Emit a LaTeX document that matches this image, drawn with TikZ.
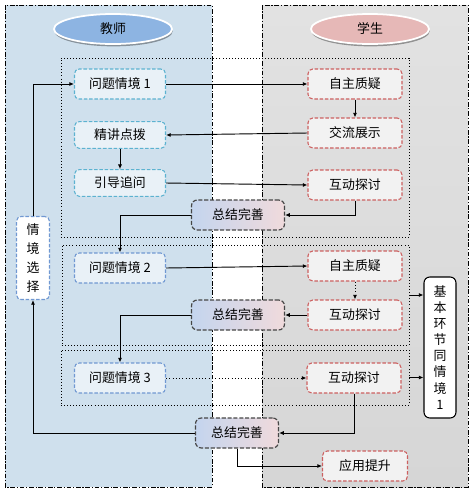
\documentclass[tikz,border=0pt]{standalone}
\usepackage{fontspec}
\newfontfamily\cjk{Noto Sans CJK SC}
\usepackage{tikz}
\usetikzlibrary{shapes.geometric}
\usetikzlibrary{shadows}
\usetikzlibrary{arrows.meta}

\definecolor{laneblue}{RGB}{207,224,237}
\definecolor{lanegraytop}{RGB}{226,226,226}
\definecolor{lanegraybot}{RGB}{214,214,214}
\definecolor{headblue}{RGB}{141,180,226}
\definecolor{headpink}{RGB}{230,184,183}
\definecolor{tealline}{RGB}{92,178,208}
\definecolor{blueline}{RGB}{112,152,210}
\definecolor{teacherfill}{RGB}{233,241,247}
\definecolor{redline}{RGB}{204,96,96}
\definecolor{studentfill}{RGB}{242,242,242}
\definecolor{sumleft}{RGB}{196,213,238}
\definecolor{sumright}{RGB}{240,218,220}
\definecolor{sumline}{RGB}{70,70,70}

\begin{document}
\begin{tikzpicture}[x=0.03cm, y=-0.03cm, >={Latex[length=4pt,width=3.5pt]},
    every node/.style={font=\cjk\fontsize{11}{13}\selectfont},
    lanedash/.style={line width=0.6pt, dash pattern=on 4pt off 1.5pt on 1pt off 1.5pt},
    lanehead/.style={ellipse, draw=white, line width=1.5pt, minimum width=3.54cm, minimum height=0.9cm, inner sep=0pt,
        drop shadow={shadow xshift=0.5pt, shadow yshift=-2pt, fill=black, opacity=0.35}},
    groupbox/.style={draw, dotted, line width=0.6pt, inner sep=0pt, outer sep=0pt},
    tbox/.style={draw=tealline, fill=teacherfill, dash pattern=on 3pt off 1.5pt, line width=0.9pt,
        rounded corners=4pt, minimum width=2.73cm, minimum height=0.9cm},
    bbox/.style={tbox, draw=blueline},
    sbox/.style={draw=redline, fill=studentfill, dash pattern=on 3pt off 1.5pt, line width=0.9pt,
        rounded corners=4pt, minimum width=2.82cm, minimum height=0.9cm},
    sumbox/.style={draw=sumline, left color=sumleft, right color=sumright, dash pattern=on 3.5pt off 1.5pt,
        line width=1pt, rounded corners=5pt, minimum width=2.79cm, minimum height=0.9cm},
    flow/.style={->, line width=0.8pt},
    dotflow/.style={->, line width=0.8pt, dotted}
]
\useasboundingbox (0,0) rectangle (473,496);

% Lanes
\fill[laneblue] (5,5) rectangle (212,487);
\draw[lanedash] (5,5) rectangle (212,487);
\shade[top color=lanegraytop, bottom color=lanegraybot] (262,5) rectangle (468,487);
\draw[lanedash] (262,5) rectangle (468,487);

% Lane heads
\node[lanehead, fill=headblue] (teacher) at (113,29) {教师};
\node[lanehead, fill=headpink] (student) at (370,29) {学生};

% Groups
\node[groupbox, minimum width=10.44cm, minimum height=5.37cm] (g1) at (235,147.5) {};
\node[groupbox, minimum width=10.41cm, minimum height=3cm] (g2) at (235.5,295) {};
\node[groupbox, minimum width=10.44cm, minimum height=1.65cm] (g3) at (235,377.5) {};

% Teacher side
\node[tbox] (q1) at (120,84) {问题情境 1};
\node[tbox, minimum height=0.8cm] (jj) at (120,135) {精讲点拨};
\node[tbox, minimum height=0.8cm] (yd) at (120,183) {引导追问};
\node[bbox] (q2) at (120,268) {问题情境 2};
\node[bbox] (q3) at (120,378) {问题情境 3};
\node[bbox, fill=white, minimum width=0.99cm, minimum height=2.49cm, inner sep=1pt, align=center,
    font=\cjk\fontsize{11}{16.2}\selectfont] (qx) at (33,258) {情\\境\\选\\择};

% Summaries
\node[sumbox] (s1) at (238,215) {总结完善};
\node[sumbox] (s2) at (238,315) {总结完善};
\node[sumbox, minimum width=2.49cm] (s3) at (237,433) {总结完善};

% Student side
\node[sbox] (z1) at (355,84) {自主质疑};
\node[sbox] (j1) at (355,133) {交流展示};
\node[sbox] (h1) at (355,185) {互动探讨};
\node[sbox] (z2) at (355,266) {自主质疑};
\node[sbox] (h2) at (355,315) {互动探讨};
\node[sbox] (h3) at (354,378) {互动探讨};
\node[sbox, minimum width=2.55cm] (yy) at (365,466) {应用提升};
\node[draw, fill=white, line width=0.9pt, rounded corners=5pt, minimum width=0.96cm, minimum height=4.23cm,
    inner sep=1pt, align=center, font=\cjk\fontsize{11}{13.7}\selectfont] (jb) at (440,347.5)
    {基\\本\\环\\节\\同\\情\\境\\1};

% Round 1
\draw[flow] (q1.east) -- (z1.west);
\draw[flow] (z1.south) -- (j1.north);
\draw[flow] (j1.west) -- (jj.east);
\draw[flow] (jj.south) -- (yd.north);
\draw[flow] (yd.east) -- (h1.west);
\draw[flow] (h1.south) |- (s1.east);
\draw[flow] (s1.west) -| (q2.north);

% Round 2
\draw[flow] (q2.east) -- (z2.west);
\draw[dotflow] (z2.south) -- (h2.north);
\draw[flow] (h2.west) -- (s2.east);
\draw[flow] (s2.west) -| (q3.north);

% Round 3
\draw[dotflow] (q3.east) -- (h3.west);
\draw[flow] (h3.south) |- (s3.east);
\draw[flow] (s3.west) -| (qx.south);
\draw[flow] (qx.north) |- (q1.west);
\draw[flow] (s3.south) |- (yy.west);

% Same basic steps
\draw[flow] (g2.east) -- (g2.east -| jb.west);
\draw[flow] (g3.east) -- (g3.east -| jb.west);
\end{tikzpicture}
\end{document}
